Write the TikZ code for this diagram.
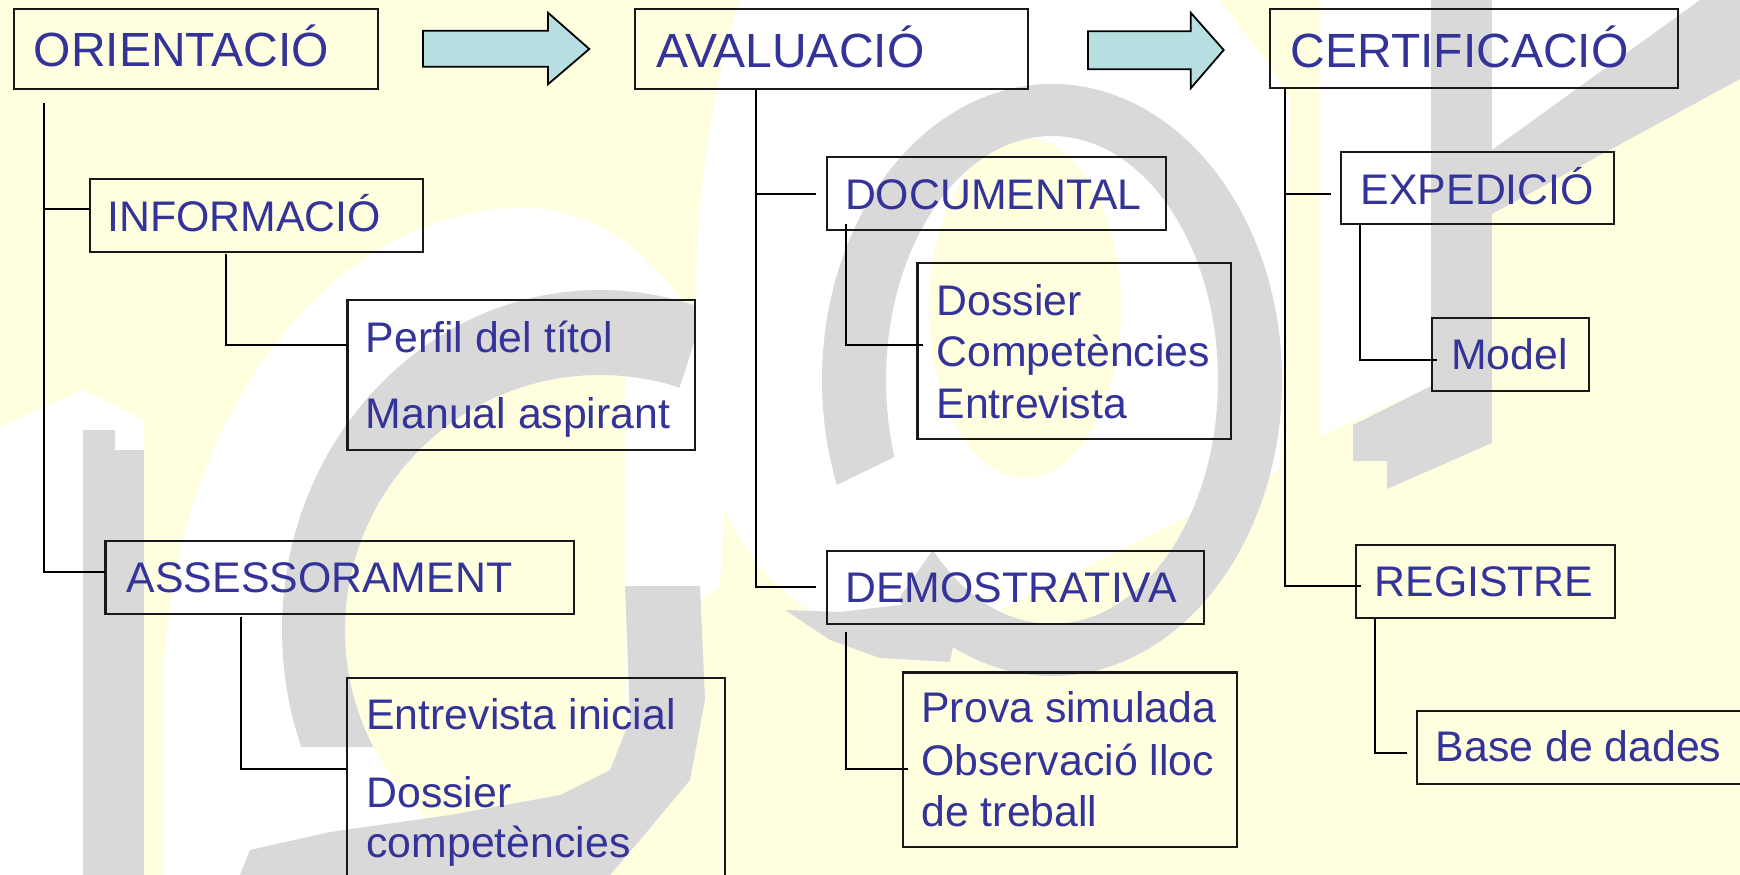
\documentclass[tikz,border=0pt]{standalone}
\usepackage{fontspec}
\setmainfont{Liberation Sans}
\usetikzlibrary{calc}
\definecolor{bgY}{HTML}{FFFFE0}
\definecolor{wmG}{HTML}{D9D9D9}
\definecolor{txtB}{HTML}{333399}
\definecolor{arrC}{HTML}{B7DEE0}
\begin{document}
\begin{tikzpicture}[x=1pt,y=-1pt,
  box/.style={draw=black!90, line width=2.2pt, inner sep=0pt, outer sep=0pt, anchor=north west},
  conn/.style={draw=black, line width=2pt},
  tone/.style={text=txtB, font=\fontsize{48}{56}\selectfont, inner sep=0pt, anchor=base west},
  ttwo/.style={text=txtB, font=\fontsize{42.8}{50}\selectfont, inner sep=0pt, anchor=base west},
  blockarrow/.style={fill=arrC, draw=black, line width=1.8pt, line join=miter}
]
\useasboundingbox (0,0) rectangle (1740,875);
\clip (0,0) rectangle (1740,875);
\fill[bgY] (0,0) rectangle (1740,875);

% ---------- watermark ----------
% left strip and "i"
\fill[white] (0,427) -- (83,390) -- (144,420) -- (144,875) -- (0,875) -- cycle;
% glow of the C
\fill[white] (163,875) -- (163,700) .. controls (165,420) and (330,210) .. (520,208)
  .. controls (640,206) and (727,330) .. (727,450) -- (720,586) -- (700,600) -- (690,780) -- (610,875) -- cycle;
\begin{scope}
  \clip (340,367) rectangle (625,875);
  \fill[bgY] (600,630) ellipse [x radius=255, y radius=255];
\end{scope}
\begin{scope}
  \clip (640,510) -- (755,154) -- (755,0) -- (0,0) -- (0,747) -- (640,747) -- cycle;
  \fill[wmG, even odd rule] (600,630) ellipse [x radius=318, y radius=340]
                            (600,630) ellipse [x radius=255, y radius=255];
\end{scope}
\fill[wmG] (240,875) -- (250,850) -- (330,832) -- (450,815) -- (560,795) -- (610,770) -- (630,720)
  -- (625,586) -- (700,586) -- (705,700) -- (690,780) -- (640,840) -- (610,875) -- cycle;
\fill[wmG] (83,430) -- (115,430) -- (115,450) -- (144,450) -- (144,875) -- (83,875) -- cycle;
% the "o"
\fill[white] (740,0) .. controls (690,150) and (680,400) .. (720,500)
  .. controls (760,590) and (830,640) .. (920,650) -- (1280,470) -- (1290,100)
  .. controls (1270,60) and (1240,30) .. (1220,0) -- cycle;
\fill[bgY] (1025,308) ellipse [x radius=96, y radius=170];
\begin{scope}
  \clip (1052,380) -- (708,871) -- (1700,1000) -- (1700,-300) -- (400,-300) -- (400,643) -- (513,643) -- cycle;
  \fill[wmG, even odd rule] (1052,380) ellipse [x radius=230, y radius=296]
                            (1052,380) ellipse [x radius=166, y radius=244];
\end{scope}
\fill[wmG] (785,610) -- (830,640) -- (880,658) -- (950,662) -- (960,610) -- (900,605) -- (840,612) -- cycle;
% right part
\fill[white] (1320,0) -- (1431,0) -- (1431,386) -- (1320,436) -- cycle;
\fill[white] (1492,0) -- (1700,0) -- (1492,150) -- cycle;
\fill[wmG] (1431,0) rectangle (1492,443);
\fill[wmG] (1700,0) -- (1740,0) -- (1740,79) -- (1492,214) -- (1492,150) -- cycle;
\fill[wmG] (1353,425) -- (1431,386) -- (1492,386) -- (1492,443) -- (1387,489) -- (1387,461) -- (1353,461) -- cycle;

% ---------- block arrows ----------
\draw[blockarrow] (423,30.7) -- (548,30.7) -- (548,12.7) -- (589.3,49) -- (548,84.3) -- (548,66.7) -- (423,66.7) -- cycle;
\draw[blockarrow] (1088,31.3) -- (1190.7,31.3) -- (1190.7,12.7) -- (1223.7,50) -- (1190.7,88.3) -- (1190.7,69.3) -- (1088,69.3) -- cycle;

% ---------- boxes ----------
\node[box, minimum width=364pt,   minimum height=79.4pt]  (orient)  at (14,9.3) {};
\node[box, minimum width=393.2pt, minimum height=79.4pt]  (aval)    at (635,9.3) {};
\node[box, minimum width=408.4pt, minimum height=79pt]    (cert)    at (1269.6,9.3) {};
\node[box, minimum width=333pt,   minimum height=73pt]    (info)    at (90,178.7) {};
\node[box, minimum width=468.4pt, minimum height=73.3pt]  (assess)  at (105.4,541) {};
\node[box, minimum width=339pt,   minimum height=73.3pt]  (doc)     at (826.8,156.7) {};
\node[box, minimum width=377.2pt, minimum height=72.7pt]  (demo)    at (826.8,551) {};
\node[box, minimum width=273.3pt, minimum height=72.5pt]  (exped)   at (1340.7,151.8) {};
\node[box, minimum width=258.7pt, minimum height=73pt]    (reg)     at (1356,544.7) {};
\node[box, minimum width=347.4pt, minimum height=150.3pt] (perfil)  at (347.4,299.7) {};
\node[box, minimum width=313.4pt, minimum height=175.7pt] (dossier) at (917.4,263.3) {};
\node[box, minimum width=378pt,   minimum height=260pt]   (entrev)  at (347.3,677.7) {};
\node[box, minimum width=334.5pt, minimum height=174.8pt] (prova)   at (902.7,672.4) {};
\node[box, minimum width=157.3pt, minimum height=73.1pt]  (model)   at (1431.7,317.9) {};
\node[box, minimum width=340pt,   minimum height=73pt]    (base)    at (1416.6,711) {};

% ---------- connectors ----------
\coordinate (oT) at ($(orient.south west)+(30.4,14)$);
\coordinate (infoIn) at ($(info.west)+(0,-6.2)$);
\coordinate (assessIn) at ($(assess.west)+(0,-6)$);
\draw[conn] (oT) |- (assessIn);
\draw[conn] (oT |- infoIn) -- (infoIn);
\draw[conn] ($(info.south west)+(136.4,2)$) |- ($(perfil.west)+(0,-29.6)$);
\draw[conn] ($(assess.south west)+(136,2.4)$) |- ($(entrev.north west)+(0,91)$);

\coordinate (aT) at ($(aval.south west)+(120.8,0)$);
\coordinate (docIn) at ($(doc.west)+(-10.5,0.3)$);
\coordinate (demoIn) at ($(demo.west)+(-10.5,-0.65)$);
\draw[conn] (aT) |- (demoIn);
\draw[conn] (aT |- docIn) -- (docIn);
\draw[conn] ($(doc.south west)+(19.5,-6)$) |- ($(dossier.west)+(5.4,-5.9)$);
\draw[conn] ($(demo.south west)+(19.5,8.6)$) |- ($(prova.west)+(4.9,8.9)$);

\coordinate (cT) at ($(cert.south west)+(15.4,0)$);
\coordinate (expIn) at ($(exped.west)+(-9.7,5.55)$);
\coordinate (regIn) at ($(reg.west)+(4.6,4.5)$);
\draw[conn] (cT) |- (regIn);
\draw[conn] (cT |- expIn) -- (expIn);
\draw[conn] ($(exped.south west)+(19.6,0)$) |- ($(model.west)+(5.3,5.9)$);
\draw[conn] ($(reg.south west)+(19,0)$) |- ($(base.west)+(-10,5.8)$);

% ---------- texts ----------
\node[tone] (orient-t) at (33.7,66.7) {ORIENTACIÓ};
\node[tone] (aval-t)   at (656.5,67.1) {AVALUACIÓ};
\node[tone] (cert-t)   at (1290.4,67.6) {CERTIFICACIÓ};
\node[ttwo] (info-t)   at (107,231) {INFORMACIÓ};
\node[ttwo] (assess-t) at (126.7,592.7) {ASSESSORAMENT};
\node[ttwo] (doc-t)    at (844.8,209.8) {DOCUMENTAL};
\node[ttwo] (demo-t)   at (845.3,602.8) {DEMOSTRATIVA};
\node[ttwo] (exped-t)  at (1360.6,204.3) {EXPEDICIÓ};
\node[ttwo] (reg-t)    at (1374.4,596.7) {REGISTRE};
\node[ttwo] (perfil-a) at (365.6,352.3) {Perfil del títol};
\node[ttwo] (perfil-b) at (365.6,428.3) {Manual aspirant};
\node[ttwo] (dossier-a) at (936.3,315.4) {Dossier};
\node[ttwo] (dossier-b) at (936.3,366.7) {Competències};
\node[ttwo] (dossier-c) at (936.3,418) {Entrevista};
\node[ttwo] (entrev-a) at (366.2,729.8) {Entrevista inicial};
\node[ttwo] (entrev-b) at (366.2,807.9) {Dossier};
\node[ttwo] (entrev-c) at (366.2,857.4) {competències};
\node[ttwo] (prova-a)  at (921.2,722.6) {Prova simulada};
\node[ttwo] (prova-b)  at (921.2,775.2) {Observació lloc};
\node[ttwo] (prova-c)  at (921.2,826) {de treball};
\node[ttwo] (model-t)  at (1450.8,369.6) {Model};
\node[ttwo] (base-t)   at (1435.6,761.7) {Base de dades};
\end{tikzpicture}
\end{document}
